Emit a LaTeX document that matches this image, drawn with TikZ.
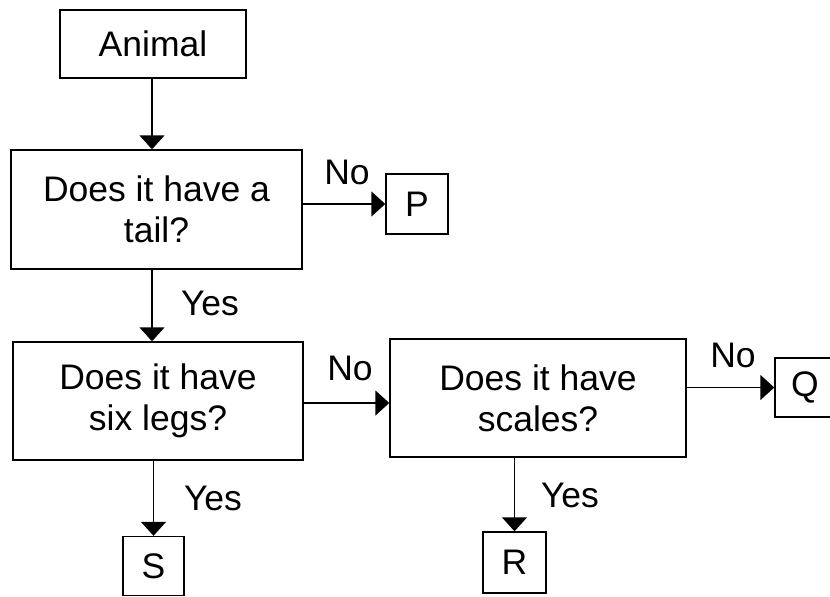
\documentclass[tikz,border=0pt]{standalone}
\usepackage{fontspec}
\setmainfont{Liberation Sans}
\usetikzlibrary{arrows.meta}
\begin{document}
\begin{tikzpicture}[x=1pt,y=-1pt,
  box/.style={draw,line width=1.4pt,inner sep=0pt,align=center,font=\fontsize{35.5}{41}\selectfont},
  lbl/.style={font=\fontsize{35.5}{41}\selectfont,inner sep=0pt},
  arr/.style={line width=1.4pt,-{Triangle[length=14pt,width=25pt]}}]
\useasboundingbox[fill=white] (0,0) rectangle (830,597);
\node[box,minimum width=186pt,minimum height=68pt] (an) at (153,44) {Animal};
\node[box,minimum width=291pt,minimum height=119pt] (t) at (156.5,209.5) {Does it have a\\tail?};
\node[box,minimum width=62pt,minimum height=60pt] (P) at (417,204) {P};
\node[box,minimum width=290pt,minimum height=118pt] (s6) at (158,401) {Does it have\\six legs?};
\node[box,minimum width=296pt,minimum height=118pt] (sc) at (538,398) {Does it have\\scales?};
\node[box,minimum width=60pt,minimum height=59pt] (Q) at (805,387.5) {Q};
\node[box,minimum width=61pt,minimum height=59pt] (S) at (153.5,566) {S};
\node[box,minimum width=63pt,minimum height=61pt] (R) at (514.5,562.5) {R};
\draw[arr] ([xshift=-1pt]an.south) -- ([xshift=-1pt]an.south |- t.north);
\draw[arr] (t.east |- P.west) -- (P.west);
\draw[arr] ([xshift=-4.5pt]t.south) -- ([xshift=-4.5pt]t.south |- s6.north);
\draw[arr] ([yshift=-2pt]s6.east) -- ([yshift=-2pt]s6.east -| sc.west);
\draw[arr] (sc.east |- Q.west) -- (Q.west);
\draw[arr] (s6.south -| S.north) -- (S.north);
\draw[arr] (sc.south -| R.north) -- (R.north);
\node[lbl] (n1) at (347,172) {No};
\node[lbl] (n2) at (350,368) {No};
\node[lbl] (n3) at (733,355) {No};
\node[lbl] (y1) at (210,303) {Yes};
\node[lbl] (y2) at (213,498) {Yes};
\node[lbl] (y3) at (570,495) {Yes};
\end{tikzpicture}
\end{document}
